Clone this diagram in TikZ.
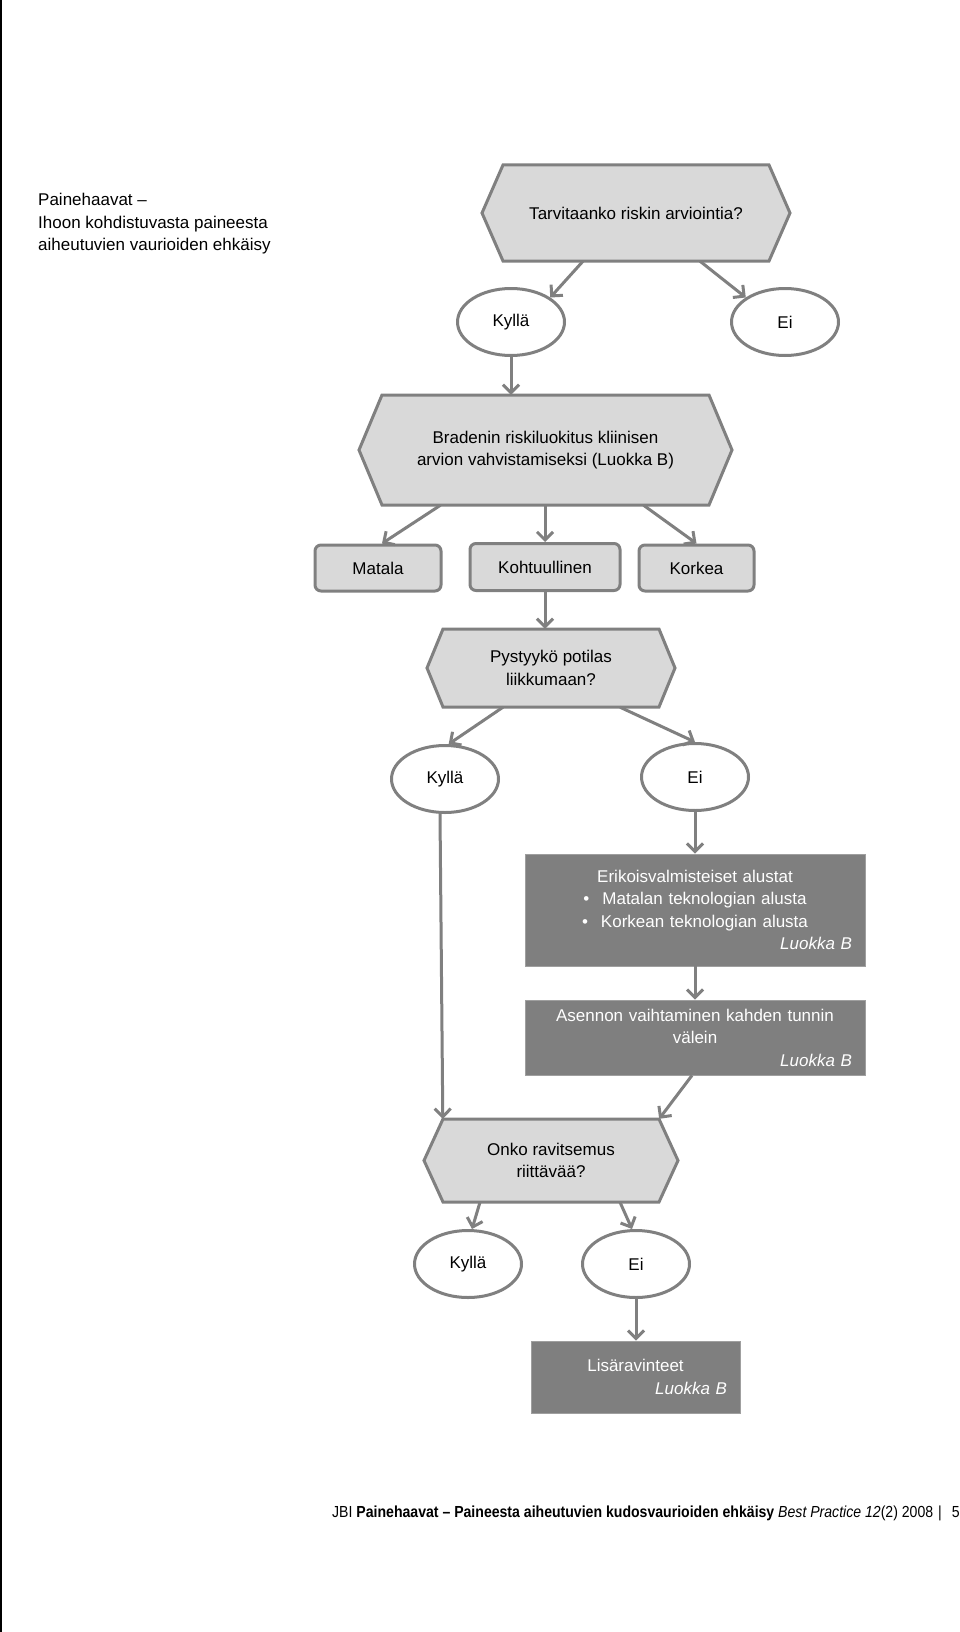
\documentclass[tikz,border=0pt]{standalone}
\usepackage{fontspec}
\setmainfont{Liberation Sans}
\newfontfamily\footfont[FakeStretch=0.88]{Liberation Sans}
\usetikzlibrary{arrows.meta,shapes.geometric,calc}

\definecolor{linegray}{RGB}{128,128,128}
\definecolor{hexfill}{RGB}{217,217,217}
\definecolor{darkfill}{RGB}{127,127,127}

% #1 name, #2 x, #3 y, #4 width, #5 height, #6 inset, #7 text
\newcommand\hexshape[7]{%
  \draw[hexline] ({#2-#4/2},#3) -- ({#2-#4/2+#6},{#3-#5/2}) -- ({#2+#4/2-#6},{#3-#5/2}) -- ({#2+#4/2},#3) -- ({#2+#4/2-#6},{#3+#5/2}) -- ({#2-#4/2+#6},{#3+#5/2}) -- cycle;
  \node[hexnode, minimum width=#4pt, minimum height=#5pt] (#1) at (#2,#3) {#7};
}

\begin{document}
\begin{tikzpicture}[x=1pt,y=-1pt,
  font=\fontsize{17}{22.5}\selectfont,
  hexnode/.style={inner sep=0pt, align=center, text=black},
  hexline/.style={draw=linegray, line width=3pt, fill=hexfill, line join=miter},
  ellnode/.style={ellipse, draw=linegray, line width=3pt, fill=white, minimum width=107pt, minimum height=67pt, inner sep=0pt},
  roundnode/.style={rectangle, rounded corners=6pt, draw=linegray, line width=3pt, fill=hexfill, inner sep=0pt},
  darknode/.style={rectangle, fill=darkfill, draw=darkfill!75!white, line width=0.8pt, text=white, align=center, inner xsep=13pt, inner ysep=0pt},
  arr/.style={draw=linegray, line width=3pt, -{Straight Barb[length=8pt,width=16pt]}},
]
\useasboundingbox (0,0) rectangle (960,1632);
\fill[white] (0,0) rectangle (960,1632);
\draw[black, line width=2pt] (1,0) -- (1,1632);

% title
\node[anchor=north west, align=left, inner sep=0pt] (title) at (38,193)
  {Painehaavat –\\ Ihoon kohdistuvasta paineesta\\ aiheutuvien vaurioiden ehkäisy};

% decision shapes
\hexshape{q1}{636}{213}{308}{96}{21}{Tarvitaanko riskin arviointia?}
\hexshape{q2}{545.5}{450}{373}{110}{23}{Bradenin riskiluokitus kliinisen\\ arvion vahvistamiseksi (Luokka B)}
\hexshape{q3}{551}{668}{248}{78}{16}{Pystyykö potilas\\ liikkumaan?}
\hexshape{q4}{551}{1160.5}{254}{83}{19}{Onko ravitsemus\\ riittävää?}

% answer ellipses
\node[ellnode] (k1) at (511,322) {Kyllä};
\node[ellnode] (e1) at (785,322) {Ei};
\node[ellnode] (k2) at (445,779) {Kyllä};
\node[ellnode] (e2) at (695,777) {Ei};
\node[ellnode] (k3) at (468,1264) {Kyllä};
\node[ellnode] (e3) at (636,1264) {Ei};

% risk levels
\node[roundnode, minimum width=126pt, minimum height=46pt] (m) at (378,568) {Matala};
\node[roundnode, minimum width=150pt, minimum height=47pt] (kh) at (545,567) {Kohtuullinen};
\node[roundnode, minimum width=115pt, minimum height=46pt] (ko) at (696.5,568) {Korkea};

% dark boxes
\node[darknode, text width=314pt, minimum height=112pt] (d1) at (695,910)
  {Erikoisvalmisteiset alustat\\ •\hspace{13pt}Matalan teknologian alusta\\ •\hspace{13pt}Korkean teknologian alusta\\ \mbox{}\hfill\textit{Luokka B}};
\node[darknode, text width=314pt, minimum height=75pt] (d2) at (695,1037.5)
  {Asennon vaihtaminen kahden tunnin\\ välein\\ \mbox{}\hfill\textit{Luokka B}};
\node[darknode, text width=183pt, minimum height=72pt] (l) at (635.5,1377)
  {Lisäravinteet\\ \mbox{}\hfill\textit{Luokka B}};

% connectors
\draw[arr] ($(q1.south)+(-53,0)$) -- (k1.32);
\draw[arr] ($(q1.south)+(64,0)$) -- (e1.148);
\draw[arr] (k1.south) -- (k1.south |- q2.north);
\draw[arr] ($(q2.south)+(-105,0)$) -- ($(m.north)+(4,0)$);
\draw[arr] (kh.north |- q2.south) -- (kh.north);
\draw[arr] ($(q2.south)+(98,0)$) -- (ko.north);
\draw[arr] (kh.south) -- (kh.south |- q3.north);
\draw[arr] ($(q3.south)+(-48,0)$) -- (k2.84);
\draw[arr] ($(q3.south)+(69,0)$) -- (e2.north);
\draw[arr] (e2.south) -- (e2.south |- d1.north);
\draw[arr] ($(k2.south)+(-5,0)$) -- ($(q4.north west)+(19,0)$);
\draw[arr] (d1.south) -- (d2.north);
\draw[arr] ($(d2.south)+(-3,0)$) -- ($(q4.north east)+(-19,0)$);
\draw[arr] ($(q4.south)+(-71,0)$) -- ($(k3.north)+(4,0)$);
\draw[arr] ($(q4.south)+(69,0)$) -- ($(e3.north)+(-4,0)$);
\draw[arr] (e3.south) -- (e3.south |- l.north);

% footer
\node[anchor=base west, inner sep=0pt, font=\footfont\fontsize{16}{19}\selectfont] (foot) at (332,1517)
  {JBI \textbf{Painehaavat – Paineesta aiheutuvien kudosvaurioiden ehkäisy} \textit{Best Practice 12}(2) 2008\hspace{5pt}|};
\node[anchor=base east, inner sep=0pt, font=\footfont\fontsize{16}{19}\selectfont] (pg) at (960,1517) {5};
\end{tikzpicture}
\end{document}
